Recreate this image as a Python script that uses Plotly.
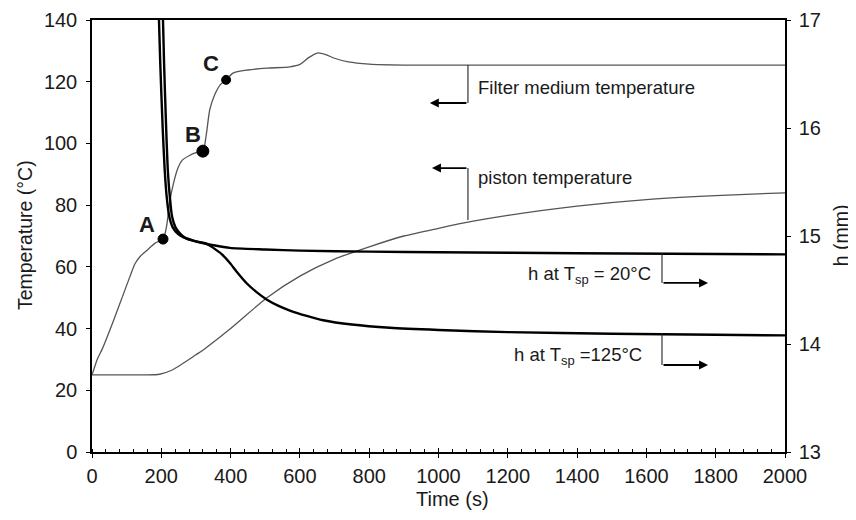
import plotly.graph_objects as go

# ---- data ----
filter_t = [0, 6, 15, 30, 60, 90, 110, 124, 140, 160, 182, 205, 215, 225, 235, 248, 260, 280,
            300, 320, 330, 340, 355, 370, 387, 407, 450, 505, 571, 600, 625, 650, 675, 700, 740,
            800, 900, 1200, 1600, 2000]
filter_T = [25, 27, 30, 33.5, 42, 51, 57, 61, 63.5, 65.5, 67.7, 69, 73, 81.6, 87, 92, 94.5, 96,
            97, 97.5, 103, 111, 116, 119, 120.6, 122.8, 123.8, 124.4, 124.8, 125.6, 127.8, 129.3,
            128.8, 127.6, 126.4, 125.7, 125.4, 125.4, 125.4, 125.4]

piston_t = [0, 150, 195, 230, 260, 300, 320, 400, 505, 600, 700, 800, 900, 1000, 1100, 1200,
            1400, 1600, 1800, 2000]
piston_T = [25, 25, 25.2, 26.5, 28.5, 31.5, 33, 40, 50, 57, 62.5, 66.5, 70, 72.5, 74.8, 76.7,
            79.7, 81.8, 83.1, 84]

h20_t = [183, 190, 197, 204, 210, 216, 223, 233, 248, 263, 290, 312, 350, 398, 500, 600, 800,
         1000, 1400, 2000]
h20_h = [18.5, 17.4, 16.6, 16.0, 15.6, 15.35, 15.18, 15.08, 15.02, 14.99, 14.96, 14.94, 14.915,
         14.89, 14.875, 14.865, 14.855, 14.85, 14.84, 14.83]

h125_t = [195, 202, 208, 214, 219, 225, 231, 241, 255, 270, 300, 330, 350, 375, 398, 420, 447,
          475, 505, 540, 571, 620, 667, 750, 860, 1000, 1200, 1500, 1800, 2000]
h125_h = [18.5, 17.4, 16.6, 16.0, 15.6, 15.35, 15.18, 15.08, 15.02, 14.98, 14.95, 14.93, 14.89,
          14.83, 14.75, 14.66, 14.56, 14.48, 14.41, 14.35, 14.31, 14.26, 14.22, 14.18, 14.15,
          14.13, 14.11, 14.095, 14.085, 14.08]

point_labels = ["A", "B", "C"]
point_t = [205, 320, 387]
point_T = [69, 97.5, 120.6]
point_size = [10, 12, 9]
label_t = [159, 291, 343]
label_T = [73.6, 103, 126]

x_ticks = [0, 200, 400, 600, 800, 1000, 1200, 1400, 1600, 1800, 2000]
T_ticks = [0, 20, 40, 60, 80, 100, 120, 140]
h_ticks = [13, 14, 15, 16, 17]

FONT = "Arial, Liberation Sans, sans-serif"
GRAY = "#555555"
TXT = "#1a1a1a"

fig = go.Figure()
fig.add_trace(go.Scatter(x=filter_t, y=filter_T, mode="lines", line=dict(color=GRAY, width=1.3),
                         line_shape="spline", line_smoothing=0.7, hoverinfo="skip"))
fig.add_trace(go.Scatter(x=piston_t, y=piston_T, mode="lines", line=dict(color=GRAY, width=1.3),
                         line_shape="spline", line_smoothing=0.7, hoverinfo="skip"))
fig.add_trace(go.Scatter(x=h20_t, y=h20_h, mode="lines", line=dict(color="black", width=2.4),
                         line_shape="spline", line_smoothing=0.7, xaxis="x2", yaxis="y2",
                         hoverinfo="skip"))
fig.add_trace(go.Scatter(x=h125_t, y=h125_h, mode="lines", line=dict(color="black", width=2.4),
                         line_shape="spline", line_smoothing=0.7, xaxis="x2", yaxis="y2",
                         hoverinfo="skip"))
fig.add_trace(go.Scatter(x=point_t, y=point_T, mode="markers", opacity=1,
                         marker=dict(color="#000000", size=point_size, opacity=1,
                                     line=dict(color="#000000", width=1)), hoverinfo="skip"))

for lab, t, T in zip(point_labels, label_t, label_T):
    fig.add_annotation(x=t, y=T, xref="x", yref="y", text=f"<b>{lab}</b>", showarrow=False,
                       xanchor="center", yanchor="middle",
                       font=dict(family=FONT, size=22, color=TXT))

# bracket annotations (positions in data units of the left axis)
LW = 1.1
def bracket(x0, y0, y1, x_end, text, tx, ty, txanchor):
    fig.add_shape(type="line", xref="x", yref="y", x0=x0, x1=x0, y0=y0, y1=y1,
                  line=dict(color="#222", width=LW))
    fig.add_annotation(x=x_end, y=y1, ax=x0, ay=y1, xref="x", yref="y", axref="x", ayref="y",
                       text="", showarrow=True, arrowhead=2, arrowsize=1.0, arrowwidth=1.8,
                       arrowcolor="black")
    fig.add_annotation(x=tx, y=ty, xref="x", yref="y", text=text, showarrow=False,
                       xanchor=txanchor, yanchor="middle",
                       font=dict(family=FONT, size=18.5, color=TXT))

bracket(1085, 125.4, 113.1, 975, "Filter medium temperature", 1108, 118, "left")
bracket(1085, 75.2, 92.0, 981, "piston temperature", 1108, 88.8, "left")
bracket(1645, 64.5, 54.8, 1778, "h at T<sub>sp</sub> = 20°C", 1620, 57.5, "right")
bracket(1645, 38.6, 28.2, 1778, "h at T<sub>sp</sub> =125°C", 1592, 31.0, "right")

# axis titles
fig.add_annotation(x=-0.0967, y=0.502, xref="paper", yref="paper", text="Temperature (°C)",
                   textangle=-90, showarrow=False, xanchor="center", yanchor="middle",
                   font=dict(family=FONT, size=19.5, color=TXT))
fig.add_annotation(x=1.081, y=0.502, xref="paper", yref="paper", text="h (mm)",
                   textangle=-90, showarrow=False, xanchor="center", yanchor="middle",
                   font=dict(family=FONT, size=19.5, color=TXT))
fig.add_annotation(x=0.52, y=-0.108, xref="paper", yref="paper", text="Time (s)",
                   showarrow=False, xanchor="center", yanchor="middle",
                   font=dict(family=FONT, size=20, color=TXT))

axis_common = dict(showgrid=False, zeroline=False, linecolor="black", linewidth=1.5,
                   tickcolor="black", tickwidth=1.2, automargin=False,
                   tickfont=dict(family=FONT, size=20, color=TXT))

# the page body has an 8px margin, so the margins are shifted to compensate
fig.update_layout(
    width=856, height=520,
    margin=dict(l=84, r=79, t=12, b=76, autoexpand=False),
    paper_bgcolor="white", plot_bgcolor="white",
    showlegend=False,
    xaxis=dict(range=[0, 2000], tickvals=x_ticks, ticks="outside", ticklen=4, showline=True,
               mirror=True, ticklabelstandoff=1,
               minor=dict(dtick=40, tick0=0, ticks="inside", ticklen=3,
                          tickcolor="black", tickwidth=1),
               **axis_common),
    xaxis2=dict(range=[0, 2000], overlaying="x", side="bottom", anchor="y2", tickvals=x_ticks,
                ticks="inside", ticklen=4, showticklabels=False, showline=False,
                showgrid=False, zeroline=False, tickcolor="black", tickwidth=1.2,
                automargin=False),
    yaxis=dict(range=[0, 140], tickvals=T_ticks, ticks="outside", ticklen=4, showline=True,
               ticklabelstandoff=5, **axis_common),
    yaxis2=dict(range=[13, 17], tickvals=h_ticks, overlaying="y", side="right", anchor="x2",
                ticks="outside", ticklen=4, showline=True, ticklabelstandoff=4,
                **axis_common),
)

fig.write_html("out.html")
